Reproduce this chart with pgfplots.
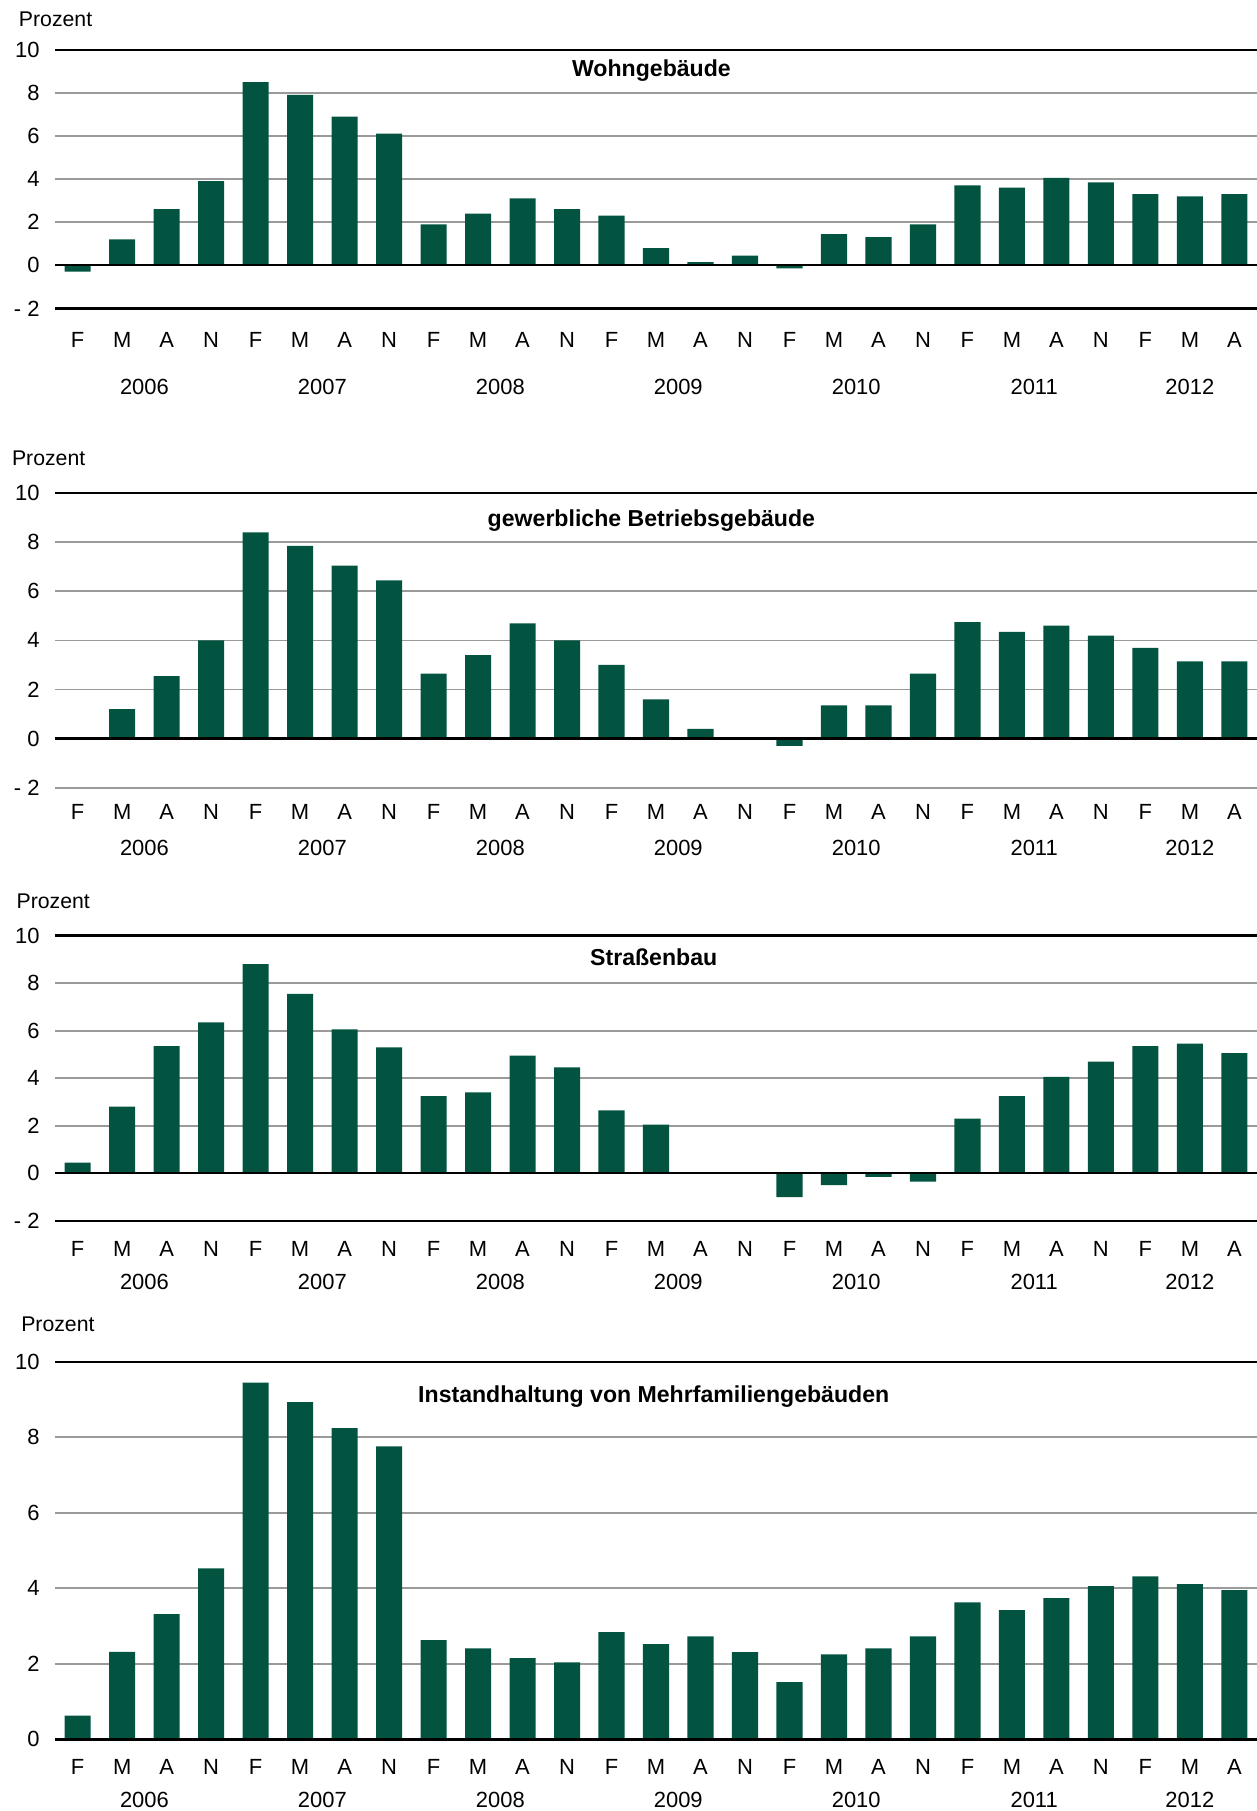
\documentclass[border=0pt]{standalone}
\usepackage{fontspec}
\setmainfont{Liberation Sans}
\usepackage{pgfplots}
\pgfplotsset{compat=1.18}
\definecolor{barcol}{HTML}{025440}
\definecolor{gridcol}{HTML}{9A9A9A}
\pgfplotsset{
  panel/.style={
    scale only axis, width=520pt,
    xmin=-0.5, xmax=26.5,
    ybar, bar width=11.3pt,
    axis line style={draw=none},
    major tick length=0pt,
    xtick={0,...,26},
    xticklabels={F,M,A,N,F,M,A,N,F,M,A,N,F,M,A,N,F,M,A,N,F,M,A,N,F,M,A},
    ymajorgrids, grid style={gridcol, line width=0.75pt},
    tick label style={font=\fontsize{9.5}{11}\selectfont},
    yticklabel style={anchor=east, inner sep=0pt, xshift=-6.7pt},
    clip=false,
    anchor=south west,
  },
  full/.style={ymin=-2, ymax=10, ytick={-2,0,2,4,6,8,10}, yticklabels={- 2,0,2,4,6,8,10}},
}
\newcommand{\yrs}[2]{%
  \foreach \xx/\yy in {1.5/2006,5.5/2007,9.5/2008,13.5/2009,17.5/2010,21.5/2011,25/2012}{%
    \edef\tmp{\noexpand\node[font=\noexpand\fontsize{9.5}{11}\noexpand\selectfont, anchor=center, yshift=#2] at (axis cs:\xx,#1) {\yy};}\tmp}}
\newcommand{\blk}[1]{\draw[black, line width=1pt] (axis cs:-0.5,#1) -- (axis cs:26.5,#1);}
\begin{document}
\begin{tikzpicture}
\useasboundingbox (0,0) rectangle (544pt,-784pt);
\tikzset{pz/.style={anchor=west, inner sep=0pt, font=\fontsize{9.2}{11}\selectfont}}
\node[pz] at (8pt,-8.5pt) {Prozent};
\node[pz] at (5pt,-198.5pt) {Prozent};
\node[pz] at (7pt,-390pt) {Prozent};
\node[pz] at (9pt,-573.5pt) {Prozent};

% Panel 1
\begin{axis}[panel, full, at={(24pt,-133.5pt)}, height=112pt,
  xticklabel style={anchor=center, inner sep=0pt, yshift=-13.5pt}]
\addplot[fill=barcol, draw=none] coordinates {
(0,-0.3) (1,1.2) (2,2.6) (3,3.9) (4,8.5) (5,7.9) (6,6.9) (7,6.1) (8,1.9) (9,2.4)
(10,3.1) (11,2.6) (12,2.3) (13,0.8) (14,0.15) (15,0.45) (16,-0.15) (17,1.45) (18,1.3)
(19,1.9) (20,3.7) (21,3.6) (22,4.05) (23,3.85) (24,3.3) (25,3.2) (26,3.3)};
\blk{10}\blk{0}\blk{-2}
\node[font=\fontsize{10}{12}\selectfont\bfseries] at (rel axis cs:0.5,1) [xshift=-2pt, yshift=-9pt] {Wohngebäude};
\yrs{-2}{-34pt}
\end{axis}

% Panel 2
\begin{axis}[panel, full, at={(24pt,-341pt)}, height=127.5pt,
  xticklabel style={anchor=center, inner sep=0pt, yshift=-10.5pt}]
\addplot[fill=barcol, draw=none] coordinates {
(0,0) (1,1.2) (2,2.55) (3,4.0) (4,8.4) (5,7.85) (6,7.05) (7,6.45) (8,2.65) (9,3.4)
(10,4.7) (11,4.0) (12,3.0) (13,1.6) (14,0.4) (15,0) (16,-0.3) (17,1.35) (18,1.35)
(19,2.65) (20,4.75) (21,4.35) (22,4.6) (23,4.2) (24,3.7) (25,3.15) (26,3.15)};
\blk{10}\blk{0}
\node[font=\fontsize{10}{12}\selectfont\bfseries] at (rel axis cs:0.5,1) [xshift=-2pt, yshift=-12pt] {gewerbliche Betriebsgebäude};
\yrs{-2}{-26pt}
\end{axis}

% Panel 3
\begin{axis}[panel, full, at={(24pt,-528.5pt)}, height=123.5pt,
  xticklabel style={anchor=center, inner sep=0pt, yshift=-12pt}]
\addplot[fill=barcol, draw=none] coordinates {
(0,0.45) (1,2.8) (2,5.35) (3,6.35) (4,8.8) (5,7.55) (6,6.05) (7,5.3) (8,3.25) (9,3.4)
(10,4.95) (11,4.45) (12,2.65) (13,2.05) (14,0) (15,0) (16,-1.0) (17,-0.5) (18,-0.15)
(19,-0.35) (20,2.3) (21,3.25) (22,4.05) (23,4.7) (24,5.35) (25,5.45) (26,5.05)};
\blk{10}\blk{0}\blk{-2}
\node[font=\fontsize{10}{12}\selectfont\bfseries] at (rel axis cs:0.5,1) [xshift=-1pt, yshift=-9.5pt] {Straßenbau};
\yrs{-2}{-26.5pt}
\end{axis}

% Panel 4
\begin{axis}[panel, at={(24pt,-753pt)}, height=163.5pt,
  ymin=0, ymax=10, ytick={0,2,4,6,8,10}, yticklabels={0,2,4,6,8,10},
  xticklabel style={anchor=center, inner sep=0pt, yshift=-12pt}]
\addplot[fill=barcol, draw=none] coordinates {
(0,0.63) (1,2.32) (2,3.32) (3,4.53) (4,9.45) (5,8.93) (6,8.24) (7,7.76) (8,2.63) (9,2.41)
(10,2.15) (11,2.04) (12,2.84) (13,2.52) (14,2.73) (15,2.31) (16,1.52) (17,2.25) (18,2.41)
(19,2.73) (20,3.63) (21,3.42) (22,3.74) (23,4.06) (24,4.32) (25,4.11) (26,3.95)};
\blk{10}\blk{0}
\node[font=\fontsize{10}{12}\selectfont\bfseries] at (rel axis cs:0.5,1) [xshift=-1pt, yshift=-15pt] {Instandhaltung von Mehrfamiliengebäuden};
\yrs{0}{-26pt}
\end{axis}
\end{tikzpicture}
\end{document}
